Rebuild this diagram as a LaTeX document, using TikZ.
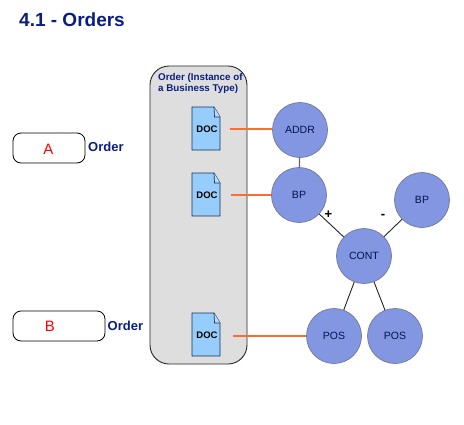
\documentclass[tikz,border=0pt]{standalone}
\usepackage{fontspec}
\setmainfont{Liberation Sans}
\definecolor{navy}{RGB}{10,30,130}
\definecolor{circ}{RGB}{130,150,225}
\definecolor{circb}{RGB}{115,120,150}
\definecolor{panel}{RGB}{222,222,222}
\definecolor{docf}{RGB}{150,205,250}
\definecolor{docb}{RGB}{25,50,85}
\definecolor{orangeline}{RGB}{250,110,50}
\tikzset{
 x=1pt,y=-1pt,
 entity/.style={circle,draw=circb,fill=circ,line width=0.7pt,minimum size=55pt,inner sep=0pt,font=\fontsize{10.5}{12}\selectfont,text=navy!60!black},
 doclabel/.style={font=\bfseries\fontsize{9.5}{11}\selectfont,text=black,inner sep=0pt},
 link/.style={draw=orangeline,line width=1.2pt},
 tree/.style={draw=black!85,line width=0.9pt},
 stem/.style={draw=black!60,line width=1.3pt},
 keybox/.style={draw=black,line width=0.8pt,rounded corners=8pt,fill=white},
 blue label/.style={font=\bfseries\fontsize{13}{14}\selectfont,text=navy,inner sep=0pt,anchor=west},
 sign/.style={font=\bfseries\fontsize{13}{12}\selectfont,inner sep=0pt},
 docpage/.style={draw=docb,fill=docf,line width=0.9pt,line join=miter},
}
\newcommand{\docicon}[2]{% top y, node name
 \draw[docpage] (192,#1) -- (214,#1) -- (220,#1+10) -- (220,#1+43) -- (192,#1+43) -- cycle;
 \draw[docb,fill=docf!70!white,line width=0.7pt] (214,#1) -- (214.5,#1+10) -- (220,#1+10);
 \node[doclabel] (#2) at (207,#1+22) {DOC};
}
\begin{document}
\begin{tikzpicture}
\useasboundingbox (0,0) rectangle (464,424);
\fill[white] (0,0) rectangle (464,424);
\node[font=\bfseries\fontsize{19}{22}\selectfont,text=navy,inner sep=0pt,anchor=west] (title) at (19,20) {4.1 - Orders};
\draw[draw=black!85,fill=panel,line width=0.9pt,rounded corners=19pt] (150,66) rectangle (247,364);
\node[font=\bfseries\fontsize{9.8}{11.5}\selectfont,text=navy,inner sep=0pt,anchor=north west,align=left] (ptitle) at (158,73) {Order (Instance of\\a Business Type)};
\docicon{107}{doc1}
\docicon{173}{doc2}
\docicon{313}{doc3}
\node[entity] (addr) at (300,130) {ADDR};
\node[entity] (bp1) at (299,195) {BP};
\node[entity] (bp2) at (422,200) {BP};
\node[entity] (cont) at (364,256) {CONT};
\node[entity] (pos1) at (334,336) {POS};
\node[entity] (pos2) at (395,336) {POS};
\coordinate (s1) at (230,129);
\coordinate (s2) at (231,195);
\coordinate (s3) at (233,336);
\draw[link] (s1) -- (addr.west |- s1);
\draw[link] (s2) -- (bp1.west |- s2);
\draw[link] (s3) -- (pos1.west |- s3);
\draw[stem] (addr) -- (bp1);
\draw[tree] (bp1) -- (cont);
\draw[tree] (bp2) -- (cont);
\draw[tree] (cont) -- (pos1);
\draw[tree] (cont) -- (pos2);
\node[sign] (plus) at (328.5,215) {+};
\node[sign] (minus) at (383,216) {-};
\node[keybox,minimum width=72pt,minimum height=30pt,inner sep=0pt] (a) at (49,148) {};
\node[text=red,font=\fontsize{15}{15}\selectfont,inner sep=0pt] (atext) at (48.5,149.5) {A};
\node[blue label] (aorder) at (88,147) {Order};
\node[keybox,minimum width=92pt,minimum height=30pt,inner sep=0pt] (b) at (59,326) {};
\node[text=red,font=\fontsize{15}{15}\selectfont,inner sep=0pt] (btext) at (50,326) {B};
\node[blue label] (border) at (107.5,325.5) {Order};
\end{tikzpicture}
\end{document}
